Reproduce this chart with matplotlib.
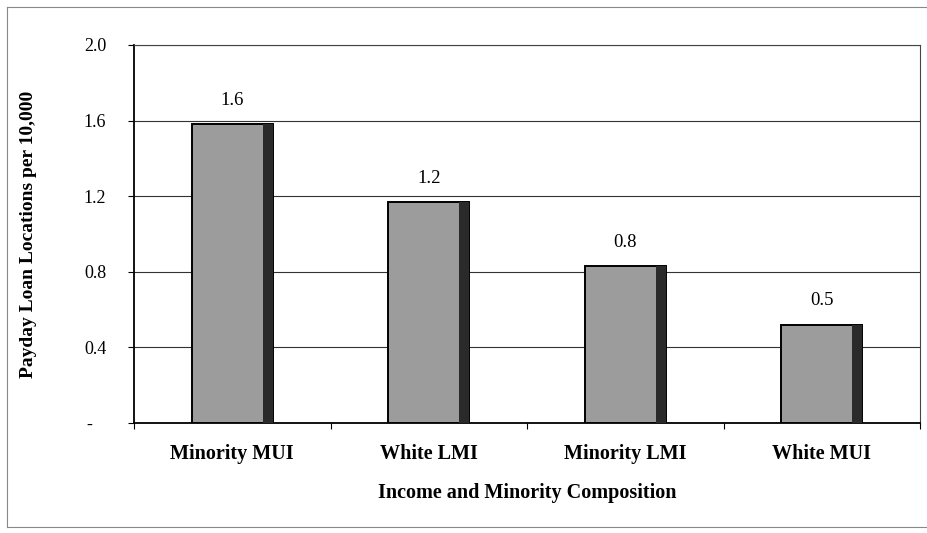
import numpy as np
import matplotlib.pyplot as plt

categories = ["Minority MUI", "White LMI", "Minority LMI", "White MUI"]
values = [1.58, 1.17, 0.83, 0.52]
value_labels = ["1.6", "1.2", "0.8", "0.5"]
y_ticks = [0.0, 0.4, 0.8, 1.2, 1.6, 2.0]
y_tick_labels = ["-   ", "0.4", "0.8", "1.2", "1.6", "2.0"]

plt.rcParams["font.family"] = ["Liberation Serif", "DejaVu Serif"]

fig = plt.figure(figsize=(9.28, 5.33), dpi=100)
ax = fig.add_axes([0.1444, 0.2064, 0.8470, 0.7092])

x = np.arange(len(categories))
width = 0.41
shadow = 0.05

ax.bar(x, values, width=width, color="#9c9c9c", edgecolor="black", linewidth=1.4, zorder=3)
# darker strip along the right side of each bar
ax.bar(x + width / 2 - shadow / 2, values, width=shadow, color="#2a2a2a", linewidth=0, zorder=4)

for xi, v, lab in zip(x, values, value_labels):
    ax.annotate(lab, (xi, v), xytext=(0, 11), textcoords="offset points",
                ha="center", va="bottom", fontsize=13.5)

ax.set_xlim(-0.5, len(categories) - 0.5)
ax.set_ylim(0, 2.0)
ax.set_yticks(y_ticks)
ax.set_yticklabels(y_tick_labels, fontsize=13)
ax.set_xticks(x)
ax.set_xticklabels(categories, fontsize=14.5, fontweight="bold")
ax.set_xticks(np.arange(-0.5, len(categories), 1.0), minor=True)
ax.tick_params(axis="x", which="major", length=0, pad=15)
ax.tick_params(axis="x", which="minor", length=4, direction="out", width=0.8)
ax.tick_params(axis="y", length=4, width=0.8, pad=16)

ax.yaxis.grid(True, color="#333333", linewidth=0.8, zorder=0)
ax.set_axisbelow(True)

for side in ["top", "right"]:
    ax.spines[side].set_linewidth(0.8)
    ax.spines[side].set_color("#444444")
ax.spines["left"].set_linewidth(1.3)
ax.spines["bottom"].set_linewidth(1.3)

ax.set_xlabel("Income and Minority Composition", fontsize=14.5, fontweight="bold", labelpad=14)
ax.set_ylabel("Payday Loan Locations per 10,000", fontsize=14, fontweight="bold", labelpad=34)

# outer frame of the chart area
fig.add_artist(plt.Line2D([0.0075, 0.0075], [0.012, 0.987], transform=fig.transFigure, color="#888888", linewidth=0.8))
fig.add_artist(plt.Line2D([0.0075, 1.0], [0.987, 0.987], transform=fig.transFigure, color="#888888", linewidth=0.8))
fig.add_artist(plt.Line2D([0.0075, 1.0], [0.012, 0.012], transform=fig.transFigure, color="#888888", linewidth=0.8))

fig.savefig("out.png", dpi=100)
